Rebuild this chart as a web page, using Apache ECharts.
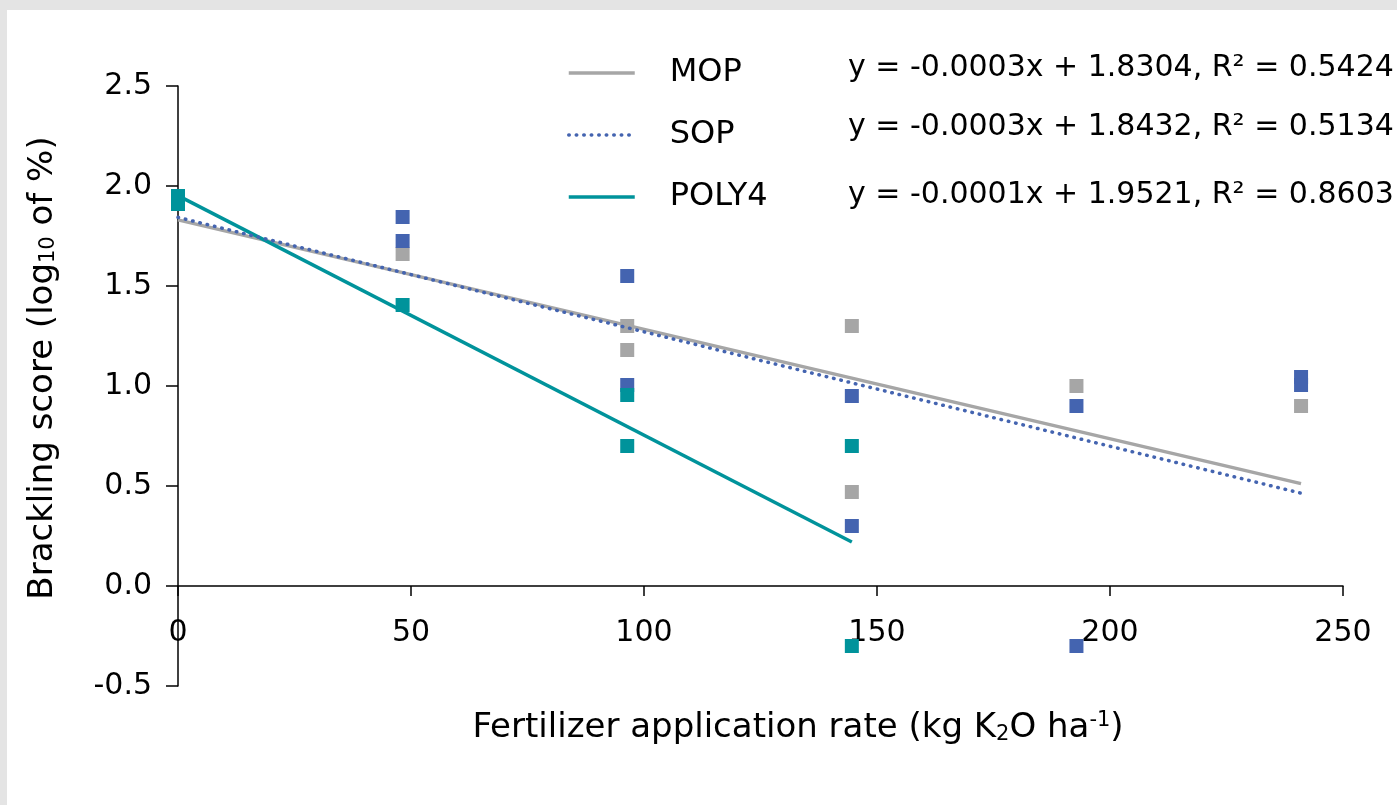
<!DOCTYPE html>
<html><head><meta charset="utf-8">
<script src="https://cdn.jsdelivr.net/npm/echarts@6/dist/echarts.min.js"></script>
<style>html,body{margin:0;padding:0;background:#e4e4e4;}#c{width:1397px;height:805px;}</style>
</head><body><div id="c"></div>
<script>
// ---- data ----
const xTicks = [0, 50, 100, 150, 200, 250];
const yTicks = [-0.5, 0, 0.5, 1.0, 1.5, 2.0, 2.5];
const seriesNames = ['MOP', 'SOP', 'POLY4'];
const mopPoints = [[0,1.92],[48.2,1.66],[96.4,1.30],[96.4,1.18],[144.6,1.30],[144.6,0.47],[192.8,1.00],[241,0.90]];
const sopPoints = [[0,1.93],[48.2,1.845],[48.2,1.725],[96.4,1.55],[96.4,1.005],[144.6,0.95],[144.6,0.30],[192.8,0.90],[192.8,-0.30],[241,1.045],[241,1.005]];
const polyPoints = [[0,1.95],[0,1.91],[48.2,1.405],[96.4,0.955],[96.4,0.70],[144.6,0.70],[144.6,-0.30]];
const mopTrend = [[0,1.8304],[241,0.512]];
const sopTrend = [[0,1.8432],[241,0.464]];
const polyTrend = [[0,1.9521],[144.6,0.22]];
const equations = ['y = -0.0003x + 1.8304, R² = 0.5424','y = -0.0003x + 1.8432, R² = 0.5134','y = -0.0001x + 1.9521, R² = 0.8603'];

const GRAY = '#a6a6a6', BLUE = '#4464b0', TEAL = '#00939b';
const FONT = 'DejaVu Sans';
const FS = 30, TFS = 34;
const chart = echarts.init(document.getElementById('c'), null, {renderer:'canvas'});
const sym = 14;
chart.setOption({
  backgroundColor: '#ffffff',
  animation: false,
  textStyle: {fontFamily: FONT, color: '#000'},
  grid: {left: 178, right: 54, top: 86, bottom: 119},
  xAxis: {
    type: 'value', min: 0, max: 250, interval: 50,
    offset: -100,
    axisLine: {onZero: false, lineStyle: {color: '#000', width: 1.5}},
    axisTick: {show: true, length: 10, lineStyle: {color: '#000', width: 1.5}},
    axisLabel: {margin: 32, fontSize: FS, color: '#000', fontFamily: FONT},
    splitLine: {show: false}
  },
  yAxis: {
    type: 'value', min: -0.5, max: 2.5, interval: 0.5,
    axisLine: {show: true, lineStyle: {color: '#000', width: 1.5}},
    axisTick: {show: true, length: 12, lineStyle: {color: '#000', width: 1.5}},
    axisLabel: {margin: 26, fontSize: FS, color: '#000', fontFamily: FONT, formatter: v => v.toFixed(1)},
    splitLine: {show: false}
  },
  legend: {
    data: seriesNames, orient: 'vertical', left: 562, top: 52,
    itemWidth: 66, itemHeight: 34, itemGap: 30,
    itemStyle: {opacity: 0},
    lineStyle: {width: 3.5},
    textStyle: {fontSize: 32, color: '#000', fontFamily: FONT, padding: [0,0,0,30]}
  },
  graphic: [
    {type:'rect', left:0, top:0, shape:{width:1397, height:10}, style:{fill:'#e4e4e4'}, silent:true},
    {type:'rect', left:0, top:0, shape:{width:7, height:805}, style:{fill:'#e4e4e4'}, silent:true},
    {type:'text', x:848, y:68, style:{text:equations[0], font:FS+'px "'+FONT+'"', fill:'#000', verticalAlign:'middle'}},
    {type:'text', x:848, y:127, style:{text:equations[1], font:FS+'px "'+FONT+'"', fill:'#000', verticalAlign:'middle'}},
    {type:'text', x:848, y:195, style:{text:equations[2], font:FS+'px "'+FONT+'"', fill:'#000', verticalAlign:'middle'}},
    {type:'text', x:798, y:728, style:{
      text:'{a|Fertilizer application rate (kg K}{s|2}{a|O ha}{p|-1}{a|)}',
      align:'center', verticalAlign:'middle',
      rich:{a:{fontSize:TFS, fontFamily:FONT, fill:'#000', height:40, verticalAlign:'middle'},
            s:{fontSize:21, fontFamily:FONT, fill:'#000', height:40, verticalAlign:'bottom', padding:[12,0,0,0]},
            p:{fontSize:21, fontFamily:FONT, fill:'#000', height:40, verticalAlign:'top', padding:[0,0,14,0]}}
    }},
    {type:'text', x:43, y:368, rotation:Math.PI/2, style:{
      text:'{a|Brackling score (log}{s|10}{a| of %)}',
      align:'center', verticalAlign:'middle',
      rich:{a:{fontSize:TFS, fontFamily:FONT, fill:'#000', height:40, verticalAlign:'middle'},
            s:{fontSize:21, fontFamily:FONT, fill:'#000', height:40, verticalAlign:'bottom', padding:[12,0,0,0]}}
    }}
  ],
  series: [
    {name:'MOP pts', type:'scatter', data:mopPoints, symbol:'rect', symbolSize:sym, itemStyle:{color:GRAY, opacity:1}, z:2},
    {name:'SOP pts', type:'scatter', data:sopPoints, symbol:'rect', symbolSize:sym, itemStyle:{color:BLUE, opacity:1}, z:2},
    {name:'POLY4 pts', type:'scatter', data:polyPoints, symbol:'rect', symbolSize:sym, itemStyle:{color:TEAL, opacity:1}, z:2},
    {name:'MOP', type:'line', data:mopTrend, symbol:'none', lineStyle:{color:GRAY, width:3.5}, itemStyle:{color:GRAY}, z:3},
    {name:'SOP', type:'line', data:sopTrend, symbol:'none', lineStyle:{color:BLUE, width:3.5, type:[0.5,7], cap:'round'}, itemStyle:{color:BLUE}, z:4},
    {name:'POLY4', type:'line', data:polyTrend, symbol:'none', lineStyle:{color:TEAL, width:3.5}, itemStyle:{color:TEAL}, z:3}
  ]
});
</script></body></html>
